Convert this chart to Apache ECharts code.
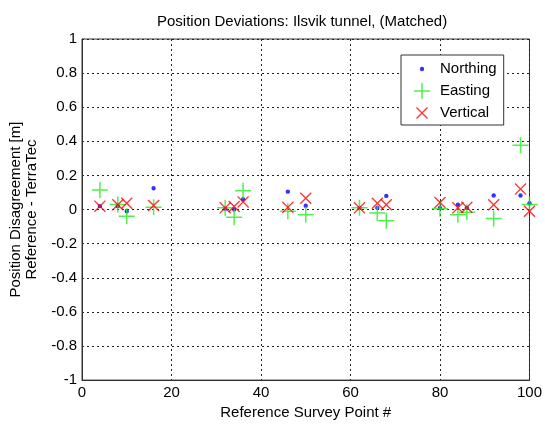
<!DOCTYPE html>
<html>
<head>
<meta charset="utf-8">
<script src="https://cdn.jsdelivr.net/npm/echarts@6/dist/echarts.min.js"></script>
<style>html,body{margin:0;padding:0;background:#fff}#c{width:545px;height:425px}</style>
</head>
<body>
<div id="c"></div>
<script>
// Reference survey point numbers
const points   = [4, 8, 10, 16, 32, 34, 36, 46, 50, 62, 66, 68, 80, 84, 86, 92, 98, 100];
// Position deviations [m]
const northing = [0.02, 0.02, -0.01, 0.125, 0.005, 0.0, 0.06, 0.105, 0.022, 0.01, 0.01, 0.08, 0.01, 0.028, 0.01, 0.082, 0.082, 0.037];
const easting  = [0.115, 0.03, -0.04, 0.013, 0.01, -0.045, 0.11, -0.01, -0.03, 0.01, -0.02, -0.065, 0.005, -0.03, -0.016, -0.053, 0.377, 0.03];
const vertical = [0.02, 0.028, 0.037, 0.024, 0.01, 0.018, 0.045, 0.013, 0.066, 0.01, 0.037, 0.028, 0.041, 0.01, 0.013, 0.028, 0.12, -0.01];
const xTicks = [0, 20, 40, 60, 80, 100];
const yTicks = [-1, -0.8, -0.6, -0.4, -0.2, 0, 0.2, 0.4, 0.6, 0.8, 1];

const FONT = 'Liberation Sans, Arial, sans-serif';
const PLUS = 'path://M7.25,0 H8.75 V7.25 H16 V8.75 H8.75 V16 H7.25 V8.75 H0 V7.25 H7.25 Z';
const CROSS = 'path://M0,0 L0,0 M16,16 L16,16 M2,2.95 L2.95,2 L8,7.05 L13.05,2 L14,2.95 L8.95,8 L14,13.05 L13.05,14 L8,8.95 L2.95,14 L2,13.05 L7.05,8 Z';
const DOT = 'path://M0,0 L0,0 M16,16 L16,16 M5.8,8 A2.2,2.2 0 1 1 10.2,8 A2.2,2.2 0 1 1 5.8,8 Z';

const zip = ys => points.map((x, i) => [x, ys[i]]);

const chart = echarts.init(document.getElementById('c'));
chart.setOption({
  animation: false,
  backgroundColor: '#fff',
  textStyle: { fontFamily: FONT },
  title: {
    text: 'Position Deviations: Ilsvik tunnel, (Matched)',
    left: 152, top: 9,
    textStyle: { fontFamily: FONT, fontSize: 15, fontWeight: 'normal', color: '#000' }
  },
  legend: {
    orient: 'vertical',
    left: 401, top: 55,
    padding: [6, 7, 4, 13],
    itemGap: 6,
    itemWidth: 16, itemHeight: 16,
    backgroundColor: '#fff',
    borderColor: '#333', borderWidth: 1,
    textStyle: { fontFamily: FONT, fontSize: 15, color: '#000', padding: [0, 0, 0, 5] },
    data: [
      { name: 'Northing', icon: DOT },
      { name: 'Easting', icon: PLUS },
      { name: 'Vertical', icon: CROSS }
    ]
  },
  grid: { left: 81, right: 13, top: 39, bottom: 39, show: true, borderColor: '#333', borderWidth: 1, backgroundColor: 'transparent' },
  xAxis: {
    type: 'value', min: xTicks[0], max: xTicks[xTicks.length - 1], interval: 20,
    name: 'Reference Survey Point #', nameLocation: 'middle', nameGap: 22,
    nameTextStyle: { fontFamily: FONT, fontSize: 15, color: '#000', verticalAlign: 'top' },
    axisLine: { show: true, onZero: false, lineStyle: { color: '#333' } },
    axisTick: { show: false },
    axisLabel: { fontFamily: FONT, fontSize: 15, color: '#000', margin: 5 },
    splitLine: { show: true, lineStyle: { color: '#222', type: [2, 3], width: 1 } }
  },
  yAxis: {
    type: 'value', min: yTicks[0], max: yTicks[yTicks.length - 1], interval: 0.2,
    name: 'Position Disagreement [m]\nReference - TerraTec', nameLocation: 'middle', nameGap: 42,
    nameTextStyle: { fontFamily: FONT, fontSize: 15, color: '#000', lineHeight: 16 },
    axisLine: { show: true, onZero: false, lineStyle: { color: '#333' } },
    axisTick: { show: false },
    axisLabel: { fontFamily: FONT, fontSize: 15, color: '#000', margin: 5 },
    splitLine: { show: true, lineStyle: { color: '#222', type: [2, 3], width: 1 } }
  },
  series: [
    { name: 'Northing', type: 'scatter', data: zip(northing), symbol: DOT, symbolSize: 16, itemStyle: { color: '#0000ff' }, z: 3 },
    { name: 'Easting', type: 'scatter', data: zip(easting), symbol: PLUS, symbolSize: 16, itemStyle: { color: '#22ee22' }, z: 4 },
    { name: 'Vertical', type: 'scatter', data: zip(vertical), symbol: CROSS, symbolSize: 16, itemStyle: { color: '#ff0000' }, z: 5 }
  ]
});
</script>
</body>
</html>
